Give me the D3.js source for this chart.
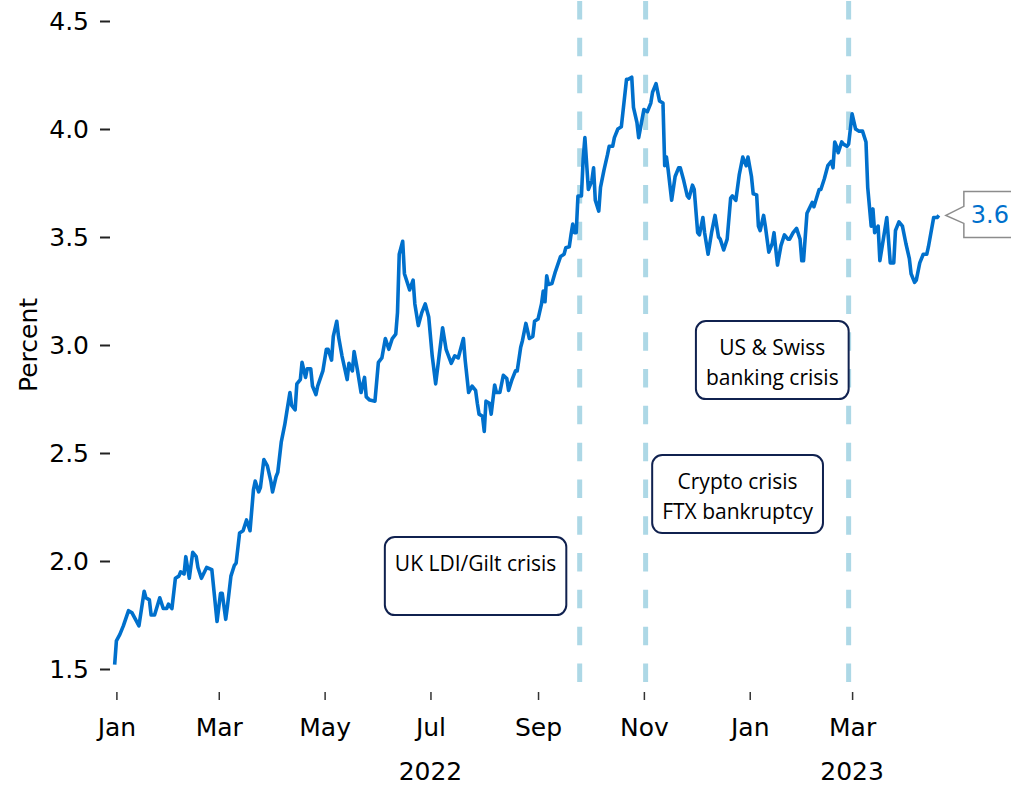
<!DOCTYPE html>
<html>
<head>
<meta charset="utf-8">
<script src="https://cdn.jsdelivr.net/npm/d3@7"></script>
<style>
  body { margin: 0; background: #fff; }
  svg { display: block; }
</style>
</head>
<body>
<div id="chart"></div>
<script>
// daily-ish readings of the yield line (percent)
var dates = [
  "2021-12-31","2022-01-01","2022-01-03","2022-01-05","2022-01-08","2022-01-10","2022-01-12","2022-01-14","2022-01-17","2022-01-18","2022-01-20","2022-01-21","2022-01-23","2022-01-26","2022-01-28","2022-01-30","2022-01-31",
  "2022-02-02","2022-02-04","2022-02-06","2022-02-07","2022-02-09","2022-02-10","2022-02-12","2022-02-14","2022-02-16","2022-02-17","2022-02-19","2022-02-22","2022-02-25","2022-02-28",
  "2022-03-02","2022-03-03","2022-03-05","2022-03-06","2022-03-08","2022-03-10","2022-03-11","2022-03-13","2022-03-15","2022-03-17","2022-03-19","2022-03-21","2022-03-22","2022-03-24","2022-03-25","2022-03-27","2022-03-29","2022-03-31",
  "2022-04-01","2022-04-03","2022-04-04","2022-04-06","2022-04-08","2022-04-09","2022-04-11","2022-04-12","2022-04-14","2022-04-15","2022-04-17","2022-04-18","2022-04-20","2022-04-21","2022-04-23","2022-04-24","2022-04-26","2022-04-27","2022-04-30",
  "2022-05-02","2022-05-03","2022-05-05","2022-05-06","2022-05-08","2022-05-09","2022-05-11","2022-05-14","2022-05-15","2022-05-17","2022-05-18","2022-05-20","2022-05-22","2022-05-24","2022-05-25","2022-05-27","2022-05-30",
  "2022-06-01","2022-06-03","2022-06-05","2022-06-07","2022-06-09","2022-06-11","2022-06-12","2022-06-13","2022-06-15","2022-06-16","2022-06-19","2022-06-21","2022-06-22","2022-06-24","2022-06-26","2022-06-28","2022-06-30",
  "2022-07-02","2022-07-04","2022-07-06","2022-07-08","2022-07-10","2022-07-13","2022-07-15","2022-07-17","2022-07-20","2022-07-21","2022-07-23","2022-07-25","2022-07-27","2022-07-28","2022-07-29","2022-07-31",
  "2022-08-01","2022-08-02","2022-08-04","2022-08-05","2022-08-07","2022-08-08","2022-08-10","2022-08-12","2022-08-14","2022-08-15","2022-08-17","2022-08-19","2022-08-20","2022-08-22","2022-08-23","2022-08-25","2022-08-27","2022-08-29","2022-08-30",
  "2022-09-01","2022-09-03","2022-09-04","2022-09-05","2022-09-06","2022-09-07","2022-09-09","2022-09-11","2022-09-14","2022-09-16","2022-09-17","2022-09-19","2022-09-20","2022-09-21","2022-09-22","2022-09-23","2022-09-24","2022-09-26","2022-09-27","2022-09-28","2022-09-30",
  "2022-10-02","2022-10-03","2022-10-04","2022-10-06","2022-10-07","2022-10-09","2022-10-11","2022-10-12","2022-10-14","2022-10-15","2022-10-17","2022-10-19","2022-10-22","2022-10-23","2022-10-25","2022-10-26","2022-10-28","2022-10-29",
  "2022-11-01","2022-11-03","2022-11-05","2022-11-06","2022-11-08","2022-11-10","2022-11-12","2022-11-13","2022-11-14","2022-11-15","2022-11-17","2022-11-19","2022-11-21","2022-11-22","2022-11-24","2022-11-26","2022-11-27","2022-11-29","2022-11-30",
  "2022-12-02","2022-12-03","2022-12-05","2022-12-06","2022-12-08","2022-12-10","2022-12-12","2022-12-14","2022-12-15","2022-12-17","2022-12-19","2022-12-21","2022-12-22","2022-12-24","2022-12-26","2022-12-28","2022-12-30","2022-12-31",
  "2023-01-02","2023-01-03","2023-01-05","2023-01-06","2023-01-07","2023-01-09","2023-01-10","2023-01-12","2023-01-14","2023-01-15","2023-01-17","2023-01-19","2023-01-21","2023-01-23","2023-01-24","2023-01-26","2023-01-28","2023-01-30","2023-01-31",
  "2023-02-01","2023-02-03","2023-02-06","2023-02-07","2023-02-10","2023-02-11","2023-02-13","2023-02-15","2023-02-17","2023-02-18","2023-02-19","2023-02-20","2023-02-21","2023-02-23","2023-02-24","2023-02-26","2023-02-27",
  "2023-03-01","2023-03-03","2023-03-05","2023-03-07","2023-03-09","2023-03-10","2023-03-12","2023-03-13","2023-03-14","2023-03-16","2023-03-17","2023-03-19","2023-03-21","2023-03-23","2023-03-25","2023-03-26","2023-03-28","2023-03-30",
  "2023-04-01","2023-04-03","2023-04-04","2023-04-06","2023-04-07","2023-04-09","2023-04-11","2023-04-13","2023-04-14","2023-04-17","2023-04-19","2023-04-20"
]
var yields = [
  1.52,1.63,1.66,1.70,1.77,1.76,1.73,1.70,1.86,1.83,1.82,1.75,1.75,1.83,1.78,1.78,1.80,
  1.78,1.92,1.93,1.95,1.94,2.02,1.92,2.04,2.02,1.97,1.92,1.97,1.96,1.72,
  1.85,1.85,1.73,1.79,1.93,1.98,1.99,2.13,2.14,2.19,2.14,2.33,2.37,2.32,2.34,2.47,2.44,2.37,
  2.32,2.39,2.41,2.55,2.63,2.68,2.78,2.72,2.70,2.82,2.84,2.92,2.85,2.89,2.89,2.81,2.77,2.81,2.88,
  2.98,2.98,2.93,3.04,3.11,3.04,2.95,2.84,2.915,2.88,2.97,2.88,2.78,2.85,2.76,2.745,2.74,
  2.92,2.94,3.03,2.98,3.03,3.05,3.15,3.42,3.48,3.33,3.255,3.30,3.19,3.09,3.15,3.19,3.13,
  2.95,2.82,2.95,3.08,2.98,2.915,2.95,2.94,3.03,2.93,2.78,2.81,2.79,2.73,2.68,2.67,
  2.60,2.74,2.73,2.68,2.815,2.78,2.78,2.86,2.845,2.79,2.84,2.88,2.88,2.99,3.02,3.10,3.03,3.04,3.11,
  3.12,3.19,3.25,3.20,3.32,3.28,3.285,3.34,3.41,3.42,3.45,3.455,3.51,3.56,3.52,3.52,3.69,3.69,3.86,3.96,3.72,
  3.76,3.82,3.67,3.62,3.73,3.81,3.88,3.92,3.92,3.96,4.00,4.01,4.23,4.23,4.24,4.10,4.03,3.96,
  4.09,4.08,4.12,4.17,4.21,4.13,4.12,3.83,3.87,3.81,3.67,3.78,3.82,3.82,3.76,3.69,3.68,3.74,3.72,
  3.52,3.51,3.59,3.52,3.42,3.52,3.60,3.50,3.49,3.44,3.49,3.68,3.69,3.67,3.79,3.87,3.83,3.87,
  3.78,3.70,3.695,3.55,3.53,3.60,3.55,3.43,3.47,3.52,3.37,3.46,3.51,3.49,3.49,3.52,3.54,3.49,3.39,
  3.39,3.61,3.66,3.64,3.72,3.72,3.77,3.83,3.85,3.82,3.94,3.92,3.89,3.94,3.93,3.92,3.93,
  4.07,4.00,3.99,3.99,3.94,3.73,3.55,3.63,3.52,3.55,3.39,3.49,3.59,3.38,3.38,3.53,3.57,3.55,
  3.47,3.40,3.33,3.29,3.30,3.38,3.42,3.42,3.455,3.59,3.59,3.60
]

var yTicks = [1.5, 2.0, 2.5, 3.0, 3.5, 4.0, 4.5]
var xTicks = ["2022-01-01","2022-03-01","2022-05-01","2022-07-01","2022-09-01","2022-11-01","2023-01-01","2023-03-01"]
var yearDates = ["2022-07-01","2023-03-01"]
var yearNames = ["2022","2023"]

// crisis markers
var eventDates = ["2022-09-25","2022-11-02","2023-02-27"]
var noteLines = [["UK LDI/Gilt crisis",""],["Crypto crisis","FTX bankruptcy"],["US & Swiss","banking crisis"]]
var noteDates = ["2022-07-27","2022-12-25","2023-01-14"]
var noteValues = [1.93, 2.31, 2.93]

var parse = d3.timeParse("%Y-%m-%d")
var data = dates.map(function(d, i){ return {date: parse(d), v: yields[i]} })

var width = 1011, height = 785

var svg = d3.select("#chart")
  .append("svg")
    .attr("width", width)
    .attr("height", height)

var x = d3.scaleTime()
  .domain([parse("2022-01-01"), parse("2023-03-01")])
  .range([116.4, 852.1])

var y = d3.scaleLinear()
  .domain([1.5, 4.5])
  .range([669, 21])

// axes limits used by the vertical markers
var yLow = 1.44, yHigh = 4.6

// Y axis
var yAxis = svg.append("g")
  .attr("transform", "translate(110,0)")
  .call(d3.axisLeft(y).tickValues(yTicks).tickFormat(d3.format(".1f")).tickSize(10).tickPadding(11))
yAxis.select(".domain").remove()
yAxis.selectAll(".tick line").attr("stroke", "#222").attr("stroke-width", 2)
yAxis.selectAll("text")
  .style("font-family", "DejaVu Sans")
  .style("font-size", "25px")
  .attr("fill", "#000")

// X axis
var xAxis = svg.append("g")
  .attr("transform", "translate(0,692)")
  .call(d3.axisBottom(x).tickValues(xTicks.map(parse)).tickFormat(d3.timeFormat("%b")).tickSize(8).tickPadding(18))
xAxis.select(".domain").remove()
xAxis.selectAll(".tick line").attr("stroke", "#333").attr("stroke-width", 1.5)
xAxis.selectAll("text")
  .style("font-family", "DejaVu Sans")
  .style("font-size", "25px")
  .attr("fill", "#000")

svg.append("g")
  .selectAll("text")
  .data(yearDates)
  .enter()
  .append("text")
    .attr("x", function(d){ return x(parse(d)) })
    .attr("y", 780)
    .attr("text-anchor", "middle")
    .style("font-family", "DejaVu Sans")
    .style("font-size", "25px")
    .text(function(d, i){ return yearNames[i] })

// Y axis label
svg.append("text")
  .attr("transform", "translate(37,345) rotate(-90)")
  .attr("text-anchor", "middle")
  .style("font-family", "DejaVu Sans")
  .style("font-size", "25px")
  .text("Percent")

// dashed event lines
svg.append("g")
  .selectAll("line")
  .data(eventDates)
  .enter()
  .append("line")
    .attr("x1", function(d){ return x(parse(d)) })
    .attr("x2", function(d){ return x(parse(d)) })
    .attr("y1", y(yLow))
    .attr("y2", y(yHigh))
    .attr("stroke", "#add8e6")
    .attr("stroke-width", 5)
    .attr("stroke-dasharray", "18.5,18.3")

// annotation boxes
noteLines.forEach(function(lines, i){
  var cx = x(parse(noteDates[i])), cy = y(noteValues[i])
  var g = svg.append("g")
  var rect = g.append("rect")
  var texts = g.selectAll("text")
    .data(lines)
    .enter()
    .append("text")
      .attr("x", cx)
      .attr("text-anchor", "middle")
      .attr("dominant-baseline", "central")
      .style("font-family", "Open Sans")
      .style("font-size", "21px")
      .attr("fill", "#000")
      .text(function(d){ return d })
  var w = 0
  texts.each(function(){ w = Math.max(w, this.getComputedTextLength()) })
  var bw = w + 20, bh = 78
  var top = cy - bh / 2
  texts.attr("y", function(d, j){ return top + 25.5 + j * 30 })
  rect.attr("x", cx - bw / 2)
    .attr("y", top)
    .attr("width", bw)
    .attr("height", bh)
    .attr("rx", 10)
    .attr("fill", "#fff")
    .attr("stroke", "#10214f")
    .attr("stroke-width", 2)
})

// yield line
svg.append("path")
  .datum(data)
  .attr("fill", "none")
  .attr("stroke", "#0070cc")
  .attr("stroke-width", 3.6)
  .attr("stroke-linejoin", "round")
  .attr("d", d3.line()
    .x(function(d){ return x(d.date) })
    .y(function(d){ return y(d.v) }))

// last value callout
var last = data[data.length - 1]
var tipX = x(last.date) + 7, tipY = y(last.v)
var bx = tipX + 18
svg.append("path")
  .attr("d", "M" + tipX + "," + tipY +
    " L" + bx + "," + (tipY - 9) +
    " L" + bx + "," + (tipY - 24) +
    " L" + (bx + 120) + "," + (tipY - 24) +
    " L" + (bx + 120) + "," + (tipY + 22) +
    " L" + bx + "," + (tipY + 22) +
    " L" + bx + "," + (tipY + 8) + " Z")
  .attr("fill", "#fff")
  .attr("stroke", "#8c8c8c")
  .attr("stroke-width", 1.5)
svg.append("text")
  .attr("x", bx + 7)
  .attr("y", tipY)
  .attr("dominant-baseline", "central")
  .style("font-family", "DejaVu Sans")
  .style("font-size", "24px")
  .attr("fill", "#0070cc")
  .text(d3.format(".1f")(last.v))
</script>
</body>
</html>
